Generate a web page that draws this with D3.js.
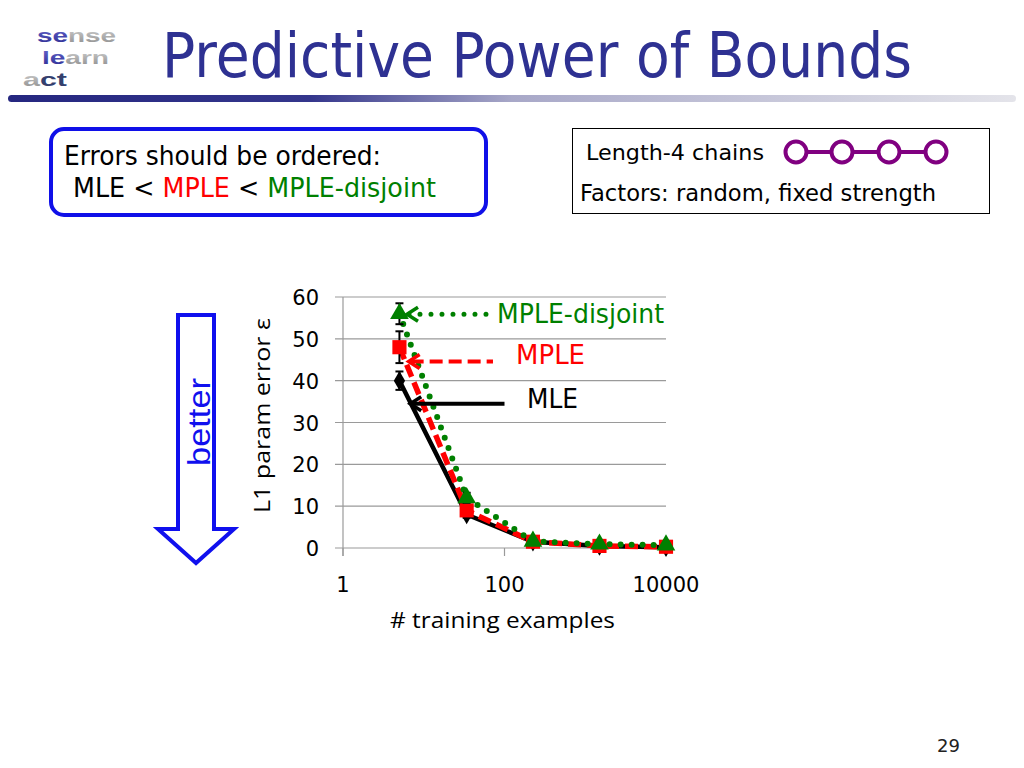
<!DOCTYPE html>
<html><head><meta charset="utf-8">
<script src="https://cdn.jsdelivr.net/npm/d3@7/dist/d3.min.js"></script>
<style>html,body{margin:0;padding:0;background:#fff;}svg{display:block;}</style>
</head><body>
<script>
// ---- data ----
const trainingExamples = [5, 34, 225, 1500, 10000];
const mleError = [40, 8, 1.5, 0.5, 0.2];
const mpleError = [48, 9, 1.5, 0.5, 0.3];
const disjointError = [56, 12, 1.6, 0.9, 0.7];
const mleErrBar = [2.2, 0.8, 0.3, 0.1, 0.1];
const mpleErrBar = [3.8, 1.0, 0.3, 0.1, 0.1];
const disjointErrBar = [2.5, 1.2, 0.3, 0.1, 0.1];
const yTicks = [0, 10, 20, 30, 40, 50, 60];
const xTicks = [1, 100, 10000];
const seriesNames = ["MLE", "MPLE", "MPLE-disjoint"];

const W = 1024, H = 768;
const svg = d3.select("body").append("svg").attr("width", W).attr("height", H);
const defs = svg.append("defs");
const tahoma = "'DejaVu Sans', Verdana, sans-serif";
const calibri = "'Open Sans', 'Liberation Sans', sans-serif";

function fit(sel, w) { sel.attr("textLength", w).attr("lengthAdjust", "spacingAndGlyphs"); return sel; }

// ---- logo ----
const gBlue = defs.append("linearGradient").attr("id", "gb").attr("x1", 0).attr("y1", 0).attr("x2", 0).attr("y2", 1);
gBlue.append("stop").attr("offset", 0).attr("stop-color", "#6a6ad0");
gBlue.append("stop").attr("offset", 1).attr("stop-color", "#2a2a90");
const gGray = defs.append("linearGradient").attr("id", "gg").attr("x1", 0).attr("y1", 0).attr("x2", 0).attr("y2", 1);
gGray.append("stop").attr("offset", 0).attr("stop-color", "#d8d8d8");
gGray.append("stop").attr("offset", 1).attr("stop-color", "#8a8a8a");
const logo = svg.append("g").style("font-family", "'Liberation Sans', Arial, sans-serif").style("font-weight", "bold").style("font-size", "19px");
const l1 = logo.append("text").attr("x", 37).attr("y", 42);
l1.append("tspan").attr("fill", "url(#gb)").text("se");
l1.append("tspan").attr("fill", "url(#gg)").text("nse");
fit(l1, 79);
const l2 = logo.append("text").attr("x", 42).attr("y", 64);
l2.append("tspan").attr("fill", "url(#gb)").text("le");
l2.append("tspan").attr("fill", "url(#gg)").text("arn");
fit(l2, 67);
const l3 = logo.append("text").attr("x", 23).attr("y", 86);
l3.append("tspan").attr("fill", "url(#gg)").text("a");
l3.append("tspan").attr("fill", "#34406e").text("ct");
fit(l3, 44);

// ---- title ----
fit(svg.append("text").attr("x", 162).attr("y", 77).attr("fill", "#2e3192")
  .style("font-family", tahoma).style("font-size", "62px").text("Predictive Power of Bounds"), 750);

// gradient rule
const gr = defs.append("linearGradient").attr("id", "rule");
gr.append("stop").attr("offset", 0).attr("stop-color", "#252780");
gr.append("stop").attr("offset", 0.3).attr("stop-color", "#34368c");
gr.append("stop").attr("offset", 0.5).attr("stop-color", "#a8a8c8");
gr.append("stop").attr("offset", 1).attr("stop-color", "#e4e4ea");
svg.append("rect").attr("x", 8).attr("y", 95).attr("width", 1008).attr("height", 7).attr("rx", 3.5).attr("fill", "url(#rule)");

// ---- left box ----
svg.append("rect").attr("x", 51).attr("y", 129).attr("width", 435).attr("height", 86).attr("rx", 13)
  .attr("fill", "#fff").attr("stroke", "#1010e8").attr("stroke-width", 4);
fit(svg.append("text").attr("x", 64).attr("y", 165).style("font-family", tahoma).style("font-size", "26px")
  .attr("fill", "#000").text("Errors should be ordered:"), 317);
const t2 = svg.append("text").attr("x", 73).attr("y", 197).style("font-family", tahoma).style("font-size", "26px");
t2.append("tspan").attr("fill", "#000").text("MLE < ");
t2.append("tspan").attr("fill", "#ff0000").text("MPLE");
t2.append("tspan").attr("fill", "#000").text(" < ");
t2.append("tspan").attr("fill", "#008000").text("MPLE-disjoint");
fit(t2, 363);

// ---- right box ----
svg.append("rect").attr("x", 572.5).attr("y", 128.5).attr("width", 417).attr("height", 85)
  .attr("fill", "#fff").attr("stroke", "#000").attr("stroke-width", 1);
fit(svg.append("text").attr("x", 586).attr("y", 160).style("font-family", tahoma).style("font-size", "22px")
  .text("Length-4 chains"), 178);
fit(svg.append("text").attr("x", 580).attr("y", 201).style("font-family", tahoma).style("font-size", "23px")
  .text("Factors: random, fixed strength"), 356);
const chainX = [796, 842, 889, 936];
svg.append("line").attr("x1", chainX[0]).attr("x2", chainX[3]).attr("y1", 152).attr("y2", 152)
  .attr("stroke", "#800080").attr("stroke-width", 4);
svg.selectAll("circle.chain").data(chainX).join("circle").attr("class", "chain")
  .attr("cx", d => d).attr("cy", 152).attr("r", 10.5).attr("fill", "#fff").attr("stroke", "#800080").attr("stroke-width", 4);

// ---- better arrow ----
svg.append("path").attr("d", "M178,315 L214,315 L214,529 L234,529 L196,563 L158,529 L178,529 Z")
  .attr("fill", "#fff").attr("stroke", "#1010ee").attr("stroke-width", 4).attr("stroke-linejoin", "miter");
fit(svg.append("text").attr("transform", "translate(210,466) rotate(-90)").attr("fill", "#1010ee")
  .style("font-family", "'Liberation Sans', Arial, sans-serif").style("font-size", "32px").text("better"), 88);

// ---- chart ----
const x = d3.scaleLog().domain([1, 10000]).range([343, 666]);
const y = d3.scaleLinear().domain([0, 60]).range([548, 297]);
const chart = svg.append("g");

// gridlines
chart.selectAll("line.grid").data(yTicks).join("line").attr("class", "grid")
  .attr("x1", x(1) - 8).attr("x2", x(10000)).attr("y1", d => y(d)).attr("y2", d => y(d))
  .attr("stroke", "#9a9a9a").attr("stroke-width", 1.2);
// y axis line
chart.append("line").attr("x1", x(1)).attr("x2", x(1)).attr("y1", y(60)).attr("y2", y(0) + 8)
  .attr("stroke", "#9a9a9a").attr("stroke-width", 1.2);
chart.selectAll("line.xt").data(xTicks).join("line").attr("class", "xt")
  .attr("x1", d => x(d)).attr("x2", d => x(d)).attr("y1", y(0)).attr("y2", y(0) + 8)
  .attr("stroke", "#9a9a9a").attr("stroke-width", 1.2);

chart.selectAll("text.yt").data(yTicks).join("text").attr("class", "yt")
  .attr("x", 319).attr("y", d => y(d) + 8).attr("text-anchor", "end")
  .style("font-family", tahoma).style("font-size", "21px").text(d => d);
chart.selectAll("text.xtl").data(xTicks).join("text").attr("class", "xtl")
  .attr("x", d => x(d)).attr("y", 592).attr("text-anchor", "middle")
  .style("font-family", tahoma).style("font-size", "21px").text(d => d);
fit(chart.append("text").attr("x", 390).attr("y", 628).style("font-family", calibri).style("font-size", "22px")
  .text("# training examples"), 225);
fit(chart.append("text").attr("transform", "translate(270,513) rotate(-90)").style("font-family", calibri).style("font-size", "22px")
  .text("L1 param error ε"), 195);

const line = d3.line().x(d => x(d[0])).y(d => y(d[1]));
const series = [
  { name: seriesNames[0], vals: mleError, err: mleErrBar, color: "#000", dash: null, width: 4.5, cap: "butt", marker: d3.symbolDiamond, msize: 110 },
  { name: seriesNames[1], vals: mpleError, err: mpleErrBar, color: "#ff0000", dash: "13,6", width: 5.5, cap: "butt", marker: d3.symbolSquare, msize: 200 },
  { name: seriesNames[2], vals: disjointError, err: disjointErrBar, color: "#008000", dash: "0,11", width: 6, cap: "round", marker: d3.symbolTriangle, msize: 150 }
];
series.forEach(s => {
  const pts = trainingExamples.map((t, i) => [t, s.vals[i], s.err[i]]);
  chart.append("path").datum(pts).attr("d", line).attr("fill", "none").attr("stroke", s.color)
    .attr("stroke-width", s.width).attr("stroke-dasharray", s.dash).attr("stroke-linecap", s.cap).attr("stroke-linejoin", "round");
  const eb = chart.append("g");
  pts.forEach(p => {
    eb.append("line").attr("x1", x(p[0])).attr("x2", x(p[0])).attr("y1", y(p[1] + p[2])).attr("y2", y(p[1] - p[2]))
      .attr("stroke", "#000").attr("stroke-width", 2);
    [p[1] + p[2], p[1] - p[2]].forEach(v => eb.append("line").attr("x1", x(p[0]) - 4).attr("x2", x(p[0]) + 4)
      .attr("y1", y(v)).attr("y2", y(v)).attr("stroke", "#000").attr("stroke-width", 2));
  });
  chart.selectAll(null).data(pts).join("path")
    .attr("transform", d => `translate(${x(d[0])},${y(d[1])})`)
    .attr("d", d3.symbol().type(s.marker).size(s.msize)).attr("fill", s.color);
});

// ---- annotations (anchored in data coordinates) ----
const ann = [
  { text: seriesNames[2], color: "#008000", tip: [6.2, 55.9], tail: [62, 55.9], tx: [81, 53.8], dash: "0,11", cap: "round", w: 5, tw: 167 },
  { text: seriesNames[1], color: "#ff0000", tip: [6.5, 44.6], tail: [72, 44.6], tx: [139, 43.9], dash: "13,6", cap: "butt", w: 4, tw: 69 },
  { text: seriesNames[0], color: "#000", tip: [6.8, 34.5], tail: [100, 34.5], tx: [190, 33.5], dash: null, cap: "butt", w: 4, tw: 51 }
];
ann.forEach(a => {
  const tx = x(a.tip[0]), ty = y(a.tip[1]);
  chart.append("line").attr("x1", tx + 2).attr("x2", x(a.tail[0])).attr("y1", ty).attr("y2", ty)
    .attr("stroke", a.color).attr("stroke-width", a.w).attr("stroke-dasharray", a.dash).attr("stroke-linecap", a.cap);
  chart.append("path").attr("d", `M${tx + 11},${ty - 7} L${tx},${ty} L${tx + 11},${ty + 7}`)
    .attr("fill", "none").attr("stroke", a.color).attr("stroke-width", 3.5);
  fit(chart.append("text").attr("x", x(a.tx[0])).attr("y", y(a.tx[1])).attr("fill", a.color)
    .style("font-family", tahoma).style("font-size", "26px").text(a.text), a.tw);
});

svg.append("text").attr("x", 960).attr("y", 752).attr("text-anchor", "end").style("font-family", tahoma)
  .style("font-size", "18px").attr("fill", "#222").text("29");
</script>
</body></html>
